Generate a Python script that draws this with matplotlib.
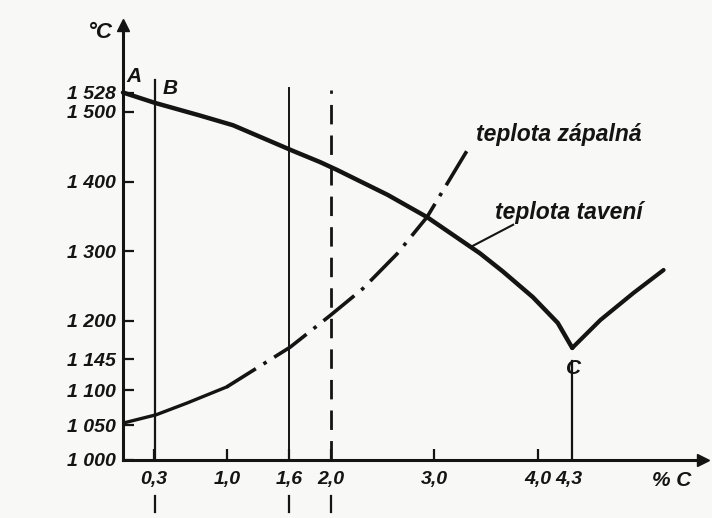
import numpy as np
import matplotlib
matplotlib.use('Agg')
import matplotlib.pyplot as plt

plt.rcParams['font.family'] = ['Liberation Sans', 'DejaVu Sans']

# teplota taveni (melting line A-B-C)
melt_x = [0.0, 0.31, 0.74, 1.06, 1.64, 1.90, 2.06, 2.55, 2.93, 3.44, 3.66, 3.95, 4.19, 4.33]
melt_t = [1528, 1513, 1495, 1481, 1444, 1428, 1417, 1381, 1349, 1297, 1271, 1234, 1197, 1161]
# branch to the right of C
right_x = [4.33, 4.60, 4.92, 5.21]
right_t = [1161, 1201, 1240, 1273]

# teplota zapalna (ignition temperature)
ign_x = [0.0, 0.32, 0.62, 1.0, 1.61, 2.0, 2.31, 2.64, 2.93, 3.33]
ign_t = [1053, 1065, 1082, 1105, 1162, 1208, 1246, 1296, 1349, 1448]

xticks = [0.3, 1.0, 1.6, 2.0, 3.0, 4.0, 4.3]
xtick_labels = ['0,3', '1,0', '1,6', '2,0', '3,0', '4,0', '4,3']
yticks = [1000, 1050, 1100, 1145, 1200, 1300, 1400, 1500, 1528]
ytick_labels = ['1 000', '1 050', '1 100', '1 145', '1 200', '1 300', '1 400', '1 500', '1 528']

ink = '#141414'
paper = '#f8f8f6'

fig = plt.figure(figsize=(7.12, 5.18), dpi=100, facecolor=paper)
ax = fig.add_axes([123/712, 58/518, 580/712, 435/518])
ax.set_facecolor(paper)
ax.set_xlim(0, 5.59)
ax.set_ylim(1000, 1625)

for s in ['top', 'right']:
    ax.spines[s].set_visible(False)
for s in ['left', 'bottom']:
    ax.spines[s].set_linewidth(2.2)
    ax.spines[s].set_color(ink)
ax.plot(1, 0, '>', color=ink, ms=8, transform=ax.transAxes, clip_on=False)
ax.plot(0, 1, '^', color=ink, ms=8, transform=ax.transAxes, clip_on=False)

# curves
ax.plot(melt_x, melt_t, color=ink, lw=3.2, solid_capstyle='round',
        solid_joinstyle='round', clip_on=False)
ax.plot(right_x, right_t, color=ink, lw=3.0, solid_capstyle='round', solid_joinstyle='round')
ax.plot(ign_x[:4], ign_t[:4], color=ink, lw=2.4, solid_joinstyle='round')
ax.plot(ign_x[3:], ign_t[3:], color=ink, lw=2.6, linestyle=(1.5, (11, 2.5, 1, 2.5)))

# vertical guide lines
ax.plot([0.31, 0.31], [1000, 1546], color=ink, lw=1.6, clip_on=False)
ax.plot([1.6, 1.6], [1000, 1534], color=ink, lw=1.4, clip_on=False)
ax.plot([2.0, 2.0], [1000, 1531], color=ink, lw=2.0, linestyle=(0, (7, 4)), clip_on=False)
ax.plot([4.33, 4.33], [1000, 1142], color=ink, lw=1.6)
for xv in [0.31, 1.6, 2.0]:
    ax.plot([xv, xv], [926, 948], color=ink, lw=1.6, clip_on=False)

# leader line for melting label
ax.plot([3.35, 3.76], [1306, 1338], color=ink, lw=1.5)

ax.set_xticks(xticks)
ax.set_xticklabels(xtick_labels)
ax.set_yticks(yticks)
ax.set_yticklabels(ytick_labels)
ax.tick_params(axis='both', direction='in', length=8, width=1.6, color=ink,
               labelcolor=ink, labelsize=14)
ax.tick_params(axis='x', pad=8)
ax.tick_params(axis='y', pad=5)
ax.xaxis.get_major_ticks()[-1].tick1line.set_visible(False)
for lab in ax.get_xticklabels() + ax.get_yticklabels():
    lab.set_fontstyle('italic')
    lab.set_fontweight('bold')

txt = dict(color=ink, fontstyle='italic', fontweight='bold')
ax.text(0.03, 1538, 'A', fontsize=15, ha='left', va='bottom', **txt)
ax.text(0.38, 1520, 'B', fontsize=15, ha='left', va='bottom', **txt)
ax.text(4.34, 1145, 'C', fontsize=15, ha='center', va='top', **txt)
ax.text(-0.22, 1614, '°C', fontsize=16, ha='center', va='center', clip_on=False, **txt)
ax.text(5.29, 984, '% C', fontsize=15, ha='center', va='top', clip_on=False, **txt)
ax.text(3.4, 1468, 'teplota zápalná', fontsize=16.5, ha='left', va='center', **txt)
ax.text(3.59, 1356, 'teplota tavení', fontsize=16.5, ha='left', va='center', **txt)

fig.savefig('out.png', dpi=100, facecolor=paper)
